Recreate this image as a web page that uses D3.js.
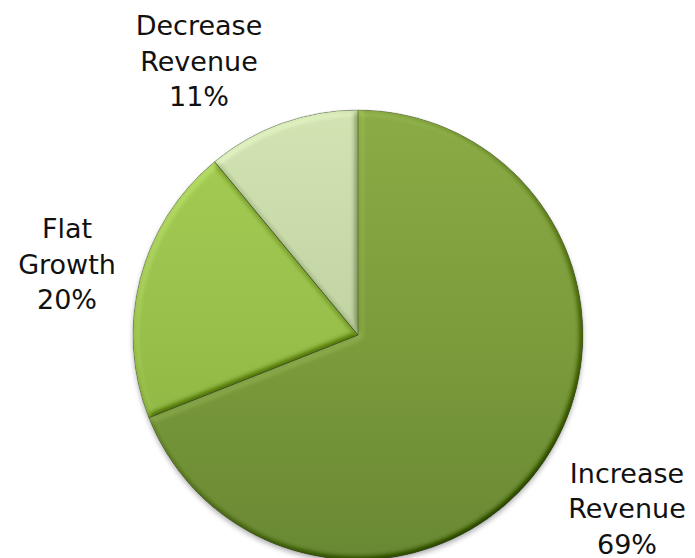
<!DOCTYPE html>
<html>
<head>
<meta charset="utf-8">
<script src="https://cdn.jsdelivr.net/npm/d3@7"></script>
<style>
  html, body { margin: 0; padding: 0; background: #fff; }
  svg { display: block; }
  text { font-family: "DejaVu Sans", Verdana, sans-serif; font-size: 27px; fill: #111; }
</style>
</head>
<body>
<svg id="chart" width="695" height="558"></svg>
<script>
// Revenue outlook shares (percent), clockwise from 12 o'clock
const categories = ["Increase Revenue", "Flat Growth", "Decrease Revenue"];
const labelLines = [["Increase", "Revenue"], ["Flat", "Growth"], ["Decrease", "Revenue"]];
const shares = [69, 20, 11];

const W = 695, H = 558;
const cx = 358, cy = 335, radius = 225;

// gradient stops (top, middle, bottom) of each slice
const sliceStops = [
  ["#8aab45", "#7c9c3c", "#698833"],
  ["#a6cd55", "#98bf4a", "#88ad3d"],
  ["#d2e4b2", "#c2d3a4", "#adbc91"]
];

// label block placement: centre x, first baseline
const labelPos = [[627, 482.5], [67, 238], [199, 35]];
const lineGap = 35.5;

const svg = d3.select("#chart");
const defs = svg.append("defs");

// gradients live in the pie group's coordinates (origin at the pie centre)
sliceStops.forEach((stops, i) => {
  const g = defs.append("linearGradient")
    .attr("id", "grad" + i)
    .attr("gradientUnits", "userSpaceOnUse")
    .attr("x1", 0).attr("y1", -radius)
    .attr("x2", 0).attr("y2", radius);
  stops.forEach((c, k) => {
    g.append("stop").attr("offset", (k * 50) + "%").attr("stop-color", c);
  });
});

// soft bevel: lit from the upper left, flat faces left unchanged
const bevel = defs.append("filter")
  .attr("id", "bevel")
  .attr("x", "-5%").attr("y", "-5%").attr("width", "110%").attr("height", "110%")
  .attr("color-interpolation-filters", "sRGB");
bevel.append("feGaussianBlur").attr("in", "SourceAlpha").attr("stdDeviation", 3).attr("result", "blur");
bevel.append("feDiffuseLighting")
  .attr("in", "blur").attr("surfaceScale", 4).attr("diffuseConstant", 0.577)
  .attr("lighting-color", "#ffffff").attr("result", "light")
  .append("feDistantLight").attr("azimuth", 225).attr("elevation", 60);
bevel.append("feComposite")
  .attr("in", "SourceGraphic").attr("in2", "light")
  .attr("operator", "arithmetic")
  .attr("k1", 0).attr("k2", 1).attr("k3", 0.8).attr("k4", -0.4)
  .attr("result", "lit");
bevel.append("feComposite").attr("in", "lit").attr("in2", "SourceAlpha").attr("operator", "in");

// soft shadow under the pie
defs.append("filter")
  .attr("id", "shadow")
  .attr("x", "-10%").attr("y", "-10%").attr("width", "120%").attr("height", "120%")
  .append("feGaussianBlur").attr("stdDeviation", 2.5);

const pie = d3.pie().sort(null).value(d => d)(shares);
const arc = d3.arc().innerRadius(0).outerRadius(radius);

const g = svg.append("g").attr("transform", `translate(${cx},${cy})`);

g.append("circle")
  .attr("cx", 0).attr("cy", 3).attr("r", radius)
  .attr("fill", "#000").attr("fill-opacity", 0.3)
  .attr("filter", "url(#shadow)");

g.selectAll("path.slice")
  .data(pie)
  .join("path")
  .attr("class", "slice")
  .attr("d", arc)
  .attr("fill", (d, i) => `url(#grad${i})`)
  .attr("filter", "url(#bevel)");

// thin seams between slices
g.selectAll("path.seam")
  .data(pie)
  .join("path")
  .attr("class", "seam")
  .attr("d", arc)
  .attr("fill", "none")
  .attr("stroke", "#3f4f22")
  .attr("stroke-opacity", 0.3)
  .attr("stroke-width", 1);

// category labels with percentage
const labels = svg.selectAll("text.label")
  .data(pie)
  .join("text")
  .attr("class", "label")
  .attr("text-anchor", "middle");

labels.each(function (d, i) {
  const t = d3.select(this);
  const [x, y] = labelPos[i];
  const lines = labelLines[i].concat([d.value + "%"]);
  lines.forEach((s, k) => {
    t.append("tspan").attr("x", x).attr("y", y + k * lineGap).text(s);
  });
});
</script>
</body>
</html>
